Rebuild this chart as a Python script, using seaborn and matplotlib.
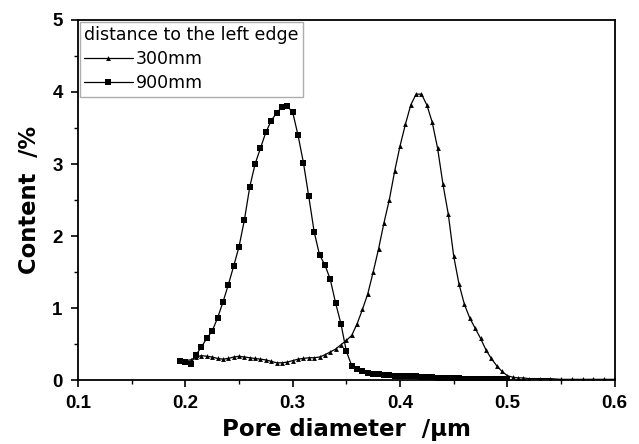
import numpy as np
import pandas as pd
import matplotlib
matplotlib.use("Agg")
import matplotlib.pyplot as plt
import seaborn as sns
from matplotlib.ticker import MultipleLocator

# pore diameter (um) and content (%)
d_900 = [0.195, 0.200, 0.205, 0.210, 0.215, 0.220, 0.225, 0.230, 0.235, 0.240,
         0.245, 0.250, 0.255, 0.260, 0.265, 0.270, 0.275, 0.280, 0.285, 0.290,
         0.295, 0.300, 0.305, 0.310, 0.315, 0.320, 0.325, 0.330, 0.335, 0.340,
         0.345, 0.350, 0.355, 0.360, 0.365, 0.370, 0.375, 0.380, 0.385, 0.390,
         0.395, 0.400, 0.405, 0.410, 0.415, 0.420, 0.425, 0.430, 0.435, 0.440,
         0.445, 0.450, 0.455, 0.460, 0.465, 0.470, 0.475, 0.480, 0.485, 0.490,
         0.495, 0.500]
c_900 = [0.26, 0.25, 0.23, 0.35, 0.46, 0.58, 0.68, 0.86, 1.08, 1.32,
         1.58, 1.85, 2.22, 2.68, 3.00, 3.22, 3.44, 3.60, 3.71, 3.79,
         3.80, 3.72, 3.40, 3.02, 2.55, 2.06, 1.74, 1.60, 1.40, 1.07,
         0.78, 0.40, 0.20, 0.15, 0.12, 0.10, 0.09, 0.08, 0.07, 0.07,
         0.06, 0.06, 0.05, 0.05, 0.05, 0.04, 0.04, 0.04, 0.03, 0.03,
         0.03, 0.03, 0.03, 0.02, 0.02, 0.02, 0.02, 0.02, 0.02, 0.02,
         0.02, 0.02]

d_300 = [0.195, 0.200, 0.205, 0.210, 0.215, 0.220, 0.225, 0.230, 0.235, 0.240,
         0.245, 0.250, 0.255, 0.260, 0.265, 0.270, 0.275, 0.280, 0.285, 0.290,
         0.295, 0.300, 0.305, 0.310, 0.315, 0.320, 0.325, 0.330, 0.335, 0.340,
         0.345, 0.350, 0.355, 0.360, 0.365, 0.370, 0.375, 0.380, 0.385, 0.390,
         0.395, 0.400, 0.405, 0.410, 0.415, 0.420, 0.425, 0.430, 0.435, 0.440,
         0.445, 0.450, 0.455, 0.460, 0.465, 0.470, 0.475, 0.480, 0.485, 0.490,
         0.495, 0.500, 0.505, 0.510, 0.515, 0.520, 0.530, 0.540, 0.550, 0.560,
         0.570, 0.580, 0.590, 0.600]
c_300 = [0.27, 0.27, 0.28, 0.32, 0.34, 0.33, 0.32, 0.30, 0.29, 0.30,
         0.32, 0.33, 0.32, 0.31, 0.30, 0.29, 0.28, 0.26, 0.24, 0.24,
         0.25, 0.27, 0.29, 0.30, 0.31, 0.31, 0.32, 0.35, 0.39, 0.43,
         0.49, 0.55, 0.62, 0.78, 0.98, 1.20, 1.50, 1.82, 2.18, 2.50,
         2.90, 3.25, 3.55, 3.82, 3.97, 3.97, 3.82, 3.58, 3.22, 2.72,
         2.30, 1.72, 1.33, 1.05, 0.86, 0.72, 0.58, 0.42, 0.30, 0.20,
         0.12, 0.06, 0.04, 0.03, 0.03, 0.02, 0.02, 0.02, 0.01, 0.01,
         0.01, 0.01, 0.01, 0.01]

sns.set_style("ticks")
plt.rcParams['font.family'] = ['Liberation Sans', 'DejaVu Sans']
plt.rcParams['text.color'] = 'black'
plt.rcParams['axes.labelcolor'] = 'black'
plt.rcParams['xtick.color'] = 'black'
plt.rcParams['ytick.color'] = 'black'

fig = plt.figure(figsize=(6.39, 4.44), dpi=100)
ax = fig.add_axes([0.122, 0.144, 0.840, 0.811])

sns.lineplot(x=d_300, y=c_300, ax=ax, color='black', lw=0.9, marker='^',
             markersize=3.5, markeredgewidth=0, sort=False, label='300mm')
sns.lineplot(x=d_900, y=c_900, ax=ax, color='black', lw=0.9, marker='s',
             markersize=4.6, markeredgewidth=0, sort=False, label='900mm')

ax.set_xlim(0.1, 0.6)
ax.set_ylim(0, 5)
ax.xaxis.set_major_locator(MultipleLocator(0.1))
ax.xaxis.set_minor_locator(MultipleLocator(0.05))
ax.yaxis.set_major_locator(MultipleLocator(1))
ax.yaxis.set_minor_locator(MultipleLocator(0.5))
ax.tick_params(which='major', direction='out', length=5, width=1.2, labelsize=13.5, pad=6)
ax.tick_params(which='minor', direction='out', length=3, width=1.0)
for lab in ax.get_xticklabels() + ax.get_yticklabels():
    lab.set_fontweight('bold')
for s in ax.spines.values():
    s.set_visible(True)
    s.set_linewidth(1.3)
    s.set_color('black')

ax.set_xlabel('Pore diameter  /\u03bcm', fontsize=16.5, fontweight='bold',
              family='DejaVu Sans', labelpad=4)
ax.set_ylabel('Content  /%', fontsize=16.3, fontweight='bold',
              family='DejaVu Sans', labelpad=8)

leg = ax.legend(title='distance to the left edge', loc='upper left',
                prop={'family': 'DejaVu Sans', 'size': 12.5},
                title_fontproperties={'family': 'DejaVu Sans', 'size': 12.5},
                frameon=True, fancybox=False, borderaxespad=0.1,
                handlelength=2.8, handletextpad=0.2, labelspacing=0.35, borderpad=0.25)
leg._legend_box.align = 'left'
leg.get_frame().set_edgecolor('#999999')
leg.get_frame().set_linewidth(1.0)

fig.savefig('out.png', dpi=100)
